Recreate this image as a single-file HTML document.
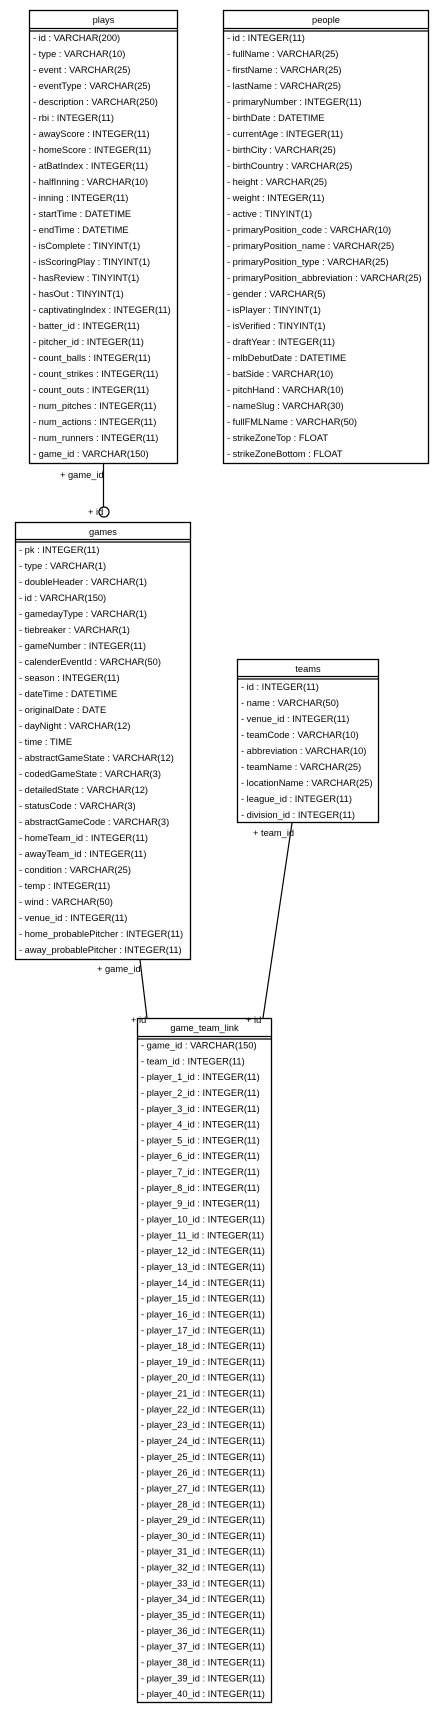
<!DOCTYPE html>
<html><head><meta charset="utf-8"><style>
html,body{margin:0;padding:0;background:#fff;}
svg{display:block;}
text{font-family:"Liberation Sans",Arial,sans-serif;font-size:9.3px;fill:#000;}
.h{text-anchor:middle;}
</style></head><body>
<svg width="445" height="1723" viewBox="0 0 445 1723" xmlns="http://www.w3.org/2000/svg">
<g fill="#fff" stroke="#000" stroke-width="1.3">
<rect x="29.5" y="10.5" width="148" height="453"/>
<line x1="29.5" y1="28.5" x2="177.5" y2="28.5"/><line x1="29.5" y1="31" x2="177.5" y2="31"/>
<rect x="223.5" y="10.5" width="205" height="453"/>
<line x1="223.5" y1="28.5" x2="428.5" y2="28.5"/><line x1="223.5" y1="31" x2="428.5" y2="31"/>
<rect x="15.5" y="522.5" width="175" height="437"/>
<line x1="15.5" y1="539.5" x2="190.5" y2="539.5"/><line x1="15.5" y1="542" x2="190.5" y2="542"/>
<rect x="237.5" y="659.5" width="141" height="163"/>
<line x1="237.5" y1="676.5" x2="378.5" y2="676.5"/><line x1="237.5" y1="679" x2="378.5" y2="679"/>
<rect x="137.5" y="1018.5" width="134" height="684"/>
<line x1="137.5" y1="1036.5" x2="271.5" y2="1036.5"/><line x1="137.5" y1="1039" x2="271.5" y2="1039"/>
</g>
<g stroke="#000" stroke-width="1.2" fill="none">
<line x1="103.5" y1="463" x2="103.5" y2="507"/>
<circle cx="104" cy="512" r="5" fill="#fff"/>
<line x1="140" y1="960" x2="147" y2="1018"/>
<line x1="292" y1="823" x2="263" y2="1018"/>
</g>
<text x="60" y="478">+ game_id</text>
<text x="88" y="515">+ id</text>
<text x="97" y="972">+ game_id</text>
<text x="131" y="1023">+ id</text>
<text x="253" y="836">+ team_id</text>
<text x="246" y="1023">+ id</text>

<text class="h" x="103.5" y="23">plays</text>
<g transform="translate(33,0)">
<text y="41">- id : VARCHAR(200)</text>
<text y="57">- type : VARCHAR(10)</text>
<text y="73">- event : VARCHAR(25)</text>
<text y="89">- eventType : VARCHAR(25)</text>
<text y="105">- description : VARCHAR(250)</text>
<text y="121">- rbi : INTEGER(11)</text>
<text y="137">- awayScore : INTEGER(11)</text>
<text y="153">- homeScore : INTEGER(11)</text>
<text y="169">- atBatIndex : INTEGER(11)</text>
<text y="185">- halfInning : VARCHAR(10)</text>
<text y="201">- inning : INTEGER(11)</text>
<text y="217">- startTime : DATETIME</text>
<text y="233">- endTime : DATETIME</text>
<text y="249">- isComplete : TINYINT(1)</text>
<text y="265">- isScoringPlay : TINYINT(1)</text>
<text y="281">- hasReview : TINYINT(1)</text>
<text y="297">- hasOut : TINYINT(1)</text>
<text y="313">- captivatingIndex : INTEGER(11)</text>
<text y="329">- batter_id : INTEGER(11)</text>
<text y="345">- pitcher_id : INTEGER(11)</text>
<text y="361">- count_balls : INTEGER(11)</text>
<text y="377">- count_strikes : INTEGER(11)</text>
<text y="393">- count_outs : INTEGER(11)</text>
<text y="409">- num_pitches : INTEGER(11)</text>
<text y="425">- num_actions : INTEGER(11)</text>
<text y="441">- num_runners : INTEGER(11)</text>
<text y="457">- game_id : VARCHAR(150)</text>
</g>

<text class="h" x="326" y="23">people</text>
<g transform="translate(227,0)">
<text y="41">- id : INTEGER(11)</text>
<text y="57">- fullName : VARCHAR(25)</text>
<text y="73">- firstName : VARCHAR(25)</text>
<text y="89">- lastName : VARCHAR(25)</text>
<text y="105">- primaryNumber : INTEGER(11)</text>
<text y="121">- birthDate : DATETIME</text>
<text y="137">- currentAge : INTEGER(11)</text>
<text y="153">- birthCity : VARCHAR(25)</text>
<text y="169">- birthCountry : VARCHAR(25)</text>
<text y="185">- height : VARCHAR(25)</text>
<text y="201">- weight : INTEGER(11)</text>
<text y="217">- active : TINYINT(1)</text>
<text y="233">- primaryPosition_code : VARCHAR(10)</text>
<text y="249">- primaryPosition_name : VARCHAR(25)</text>
<text y="265">- primaryPosition_type : VARCHAR(25)</text>
<text y="281">- primaryPosition_abbreviation : VARCHAR(25)</text>
<text y="297">- gender : VARCHAR(5)</text>
<text y="313">- isPlayer : TINYINT(1)</text>
<text y="329">- isVerified : TINYINT(1)</text>
<text y="345">- draftYear : INTEGER(11)</text>
<text y="361">- mlbDebutDate : DATETIME</text>
<text y="377">- batSide : VARCHAR(10)</text>
<text y="393">- pitchHand : VARCHAR(10)</text>
<text y="409">- nameSlug : VARCHAR(30)</text>
<text y="425">- fullFMLName : VARCHAR(50)</text>
<text y="441">- strikeZoneTop : FLOAT</text>
<text y="457">- strikeZoneBottom : FLOAT</text>
</g>

<text class="h" x="103" y="535">games</text>
<g transform="translate(19,0)">
<text y="553">- pk : INTEGER(11)</text>
<text y="569">- type : VARCHAR(1)</text>
<text y="585">- doubleHeader : VARCHAR(1)</text>
<text y="601">- id : VARCHAR(150)</text>
<text y="617">- gamedayType : VARCHAR(1)</text>
<text y="633">- tiebreaker : VARCHAR(1)</text>
<text y="649">- gameNumber : INTEGER(11)</text>
<text y="665">- calenderEventId : VARCHAR(50)</text>
<text y="681">- season : INTEGER(11)</text>
<text y="697">- dateTime : DATETIME</text>
<text y="713">- originalDate : DATE</text>
<text y="729">- dayNight : VARCHAR(12)</text>
<text y="745">- time : TIME</text>
<text y="761">- abstractGameState : VARCHAR(12)</text>
<text y="777">- codedGameState : VARCHAR(3)</text>
<text y="793">- detailedState : VARCHAR(12)</text>
<text y="809">- statusCode : VARCHAR(3)</text>
<text y="825">- abstractGameCode : VARCHAR(3)</text>
<text y="841">- homeTeam_id : INTEGER(11)</text>
<text y="857">- awayTeam_id : INTEGER(11)</text>
<text y="873">- condition : VARCHAR(25)</text>
<text y="889">- temp : INTEGER(11)</text>
<text y="905">- wind : VARCHAR(50)</text>
<text y="921">- venue_id : INTEGER(11)</text>
<text y="937">- home_probablePitcher : INTEGER(11)</text>
<text y="953">- away_probablePitcher : INTEGER(11)</text>
</g>

<text class="h" x="308" y="672">teams</text>
<g transform="translate(241,0)">
<text y="690">- id : INTEGER(11)</text>
<text y="706">- name : VARCHAR(50)</text>
<text y="722">- venue_id : INTEGER(11)</text>
<text y="738">- teamCode : VARCHAR(10)</text>
<text y="754">- abbreviation : VARCHAR(10)</text>
<text y="770">- teamName : VARCHAR(25)</text>
<text y="786">- locationName : VARCHAR(25)</text>
<text y="802">- league_id : INTEGER(11)</text>
<text y="818">- division_id : INTEGER(11)</text>
</g>

<text class="h" x="204.5" y="1031">game_team_link</text>
<g transform="translate(141,0)">
<text y="1048.5">- game_id : VARCHAR(150)</text>
<text y="1064.3">- team_id : INTEGER(11)</text>
<text y="1080.1">- player_1_id : INTEGER(11)</text>
<text y="1096">- player_2_id : INTEGER(11)</text>
<text y="1111.8">- player_3_id : INTEGER(11)</text>
<text y="1127.6">- player_4_id : INTEGER(11)</text>
<text y="1143.4">- player_5_id : INTEGER(11)</text>
<text y="1159.2">- player_6_id : INTEGER(11)</text>
<text y="1175.1">- player_7_id : INTEGER(11)</text>
<text y="1190.9">- player_8_id : INTEGER(11)</text>
<text y="1206.7">- player_9_id : INTEGER(11)</text>
<text y="1222.5">- player_10_id : INTEGER(11)</text>
<text y="1238.3">- player_11_id : INTEGER(11)</text>
<text y="1254.2">- player_12_id : INTEGER(11)</text>
<text y="1270">- player_13_id : INTEGER(11)</text>
<text y="1285.8">- player_14_id : INTEGER(11)</text>
<text y="1301.6">- player_15_id : INTEGER(11)</text>
<text y="1317.4">- player_16_id : INTEGER(11)</text>
<text y="1333.3">- player_17_id : INTEGER(11)</text>
<text y="1349.1">- player_18_id : INTEGER(11)</text>
<text y="1364.9">- player_19_id : INTEGER(11)</text>
<text y="1380.7">- player_20_id : INTEGER(11)</text>
<text y="1396.5">- player_21_id : INTEGER(11)</text>
<text y="1412.4">- player_22_id : INTEGER(11)</text>
<text y="1428.2">- player_23_id : INTEGER(11)</text>
<text y="1444">- player_24_id : INTEGER(11)</text>
<text y="1459.8">- player_25_id : INTEGER(11)</text>
<text y="1475.6">- player_26_id : INTEGER(11)</text>
<text y="1491.5">- player_27_id : INTEGER(11)</text>
<text y="1507.3">- player_28_id : INTEGER(11)</text>
<text y="1523.1">- player_29_id : INTEGER(11)</text>
<text y="1538.9">- player_30_id : INTEGER(11)</text>
<text y="1554.7">- player_31_id : INTEGER(11)</text>
<text y="1570.6">- player_32_id : INTEGER(11)</text>
<text y="1586.4">- player_33_id : INTEGER(11)</text>
<text y="1602.2">- player_34_id : INTEGER(11)</text>
<text y="1618">- player_35_id : INTEGER(11)</text>
<text y="1633.8">- player_36_id : INTEGER(11)</text>
<text y="1649.7">- player_37_id : INTEGER(11)</text>
<text y="1665.5">- player_38_id : INTEGER(11)</text>
<text y="1681.3">- player_39_id : INTEGER(11)</text>
<text y="1697.1">- player_40_id : INTEGER(11)</text>
</g>
</svg>
</body></html>
